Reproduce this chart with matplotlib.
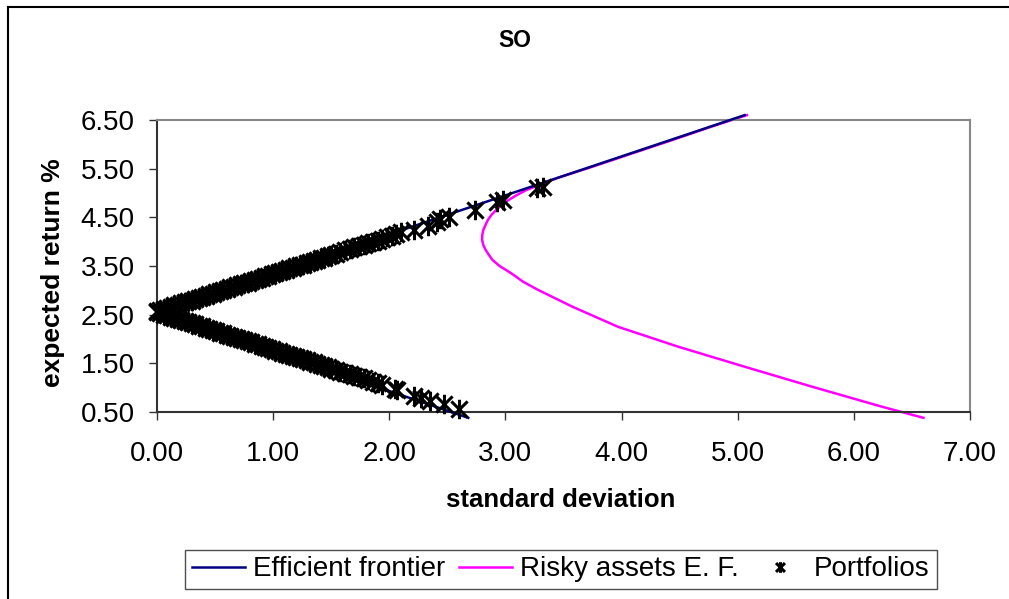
import matplotlib
matplotlib.use("Agg")
import matplotlib.pyplot as plt
from matplotlib.path import Path
from matplotlib.lines import Line2D

plt.rcParams['font.family'] = ['Liberation Sans', 'DejaVu Sans']

# efficient frontier (with riskless asset)
ef_sd = [5.06, 0.00, 2.68]
ef_ret = [6.60, 2.55, 0.38]

# risky assets efficient frontier
risky_sd = [6.60, 6.24, 5.64, 5.06, 4.49, 3.97, 3.58, 3.28, 3.15, 3.05, 2.95, 2.89,
            2.86, 2.83, 2.81, 2.80, 2.80, 2.81, 2.83, 2.85, 2.88, 2.92, 2.97, 3.03,
            3.10, 3.18, 3.45, 3.75, 4.10, 4.44, 4.77, 5.08]
risky_ret = [0.38, 0.61, 1.02, 1.43, 1.84, 2.25, 2.66, 3.01, 3.18, 3.35, 3.50, 3.62,
             3.72, 3.83, 3.93, 4.03, 4.13, 4.24, 4.35, 4.45, 4.55, 4.65, 4.76, 4.86,
             4.96, 5.06, 5.31, 5.54, 5.82, 6.09, 6.36, 6.60]

# portfolios, upper branch
up_sd = [0.00, 0.03, 0.06, 0.09, 0.12, 0.15, 0.18, 0.21, 0.24, 0.27, 0.30, 0.33,
         0.36, 0.39, 0.42, 0.45, 0.48, 0.51, 0.54, 0.57, 0.60, 0.63, 0.66, 0.69,
         0.72, 0.75, 0.78, 0.81, 0.84, 0.87, 0.90, 0.93, 0.96, 0.99, 1.02, 1.05,
         1.08, 1.11, 1.14, 1.17, 1.20, 1.23, 1.26, 1.29, 1.32, 1.35, 1.38, 1.41,
         1.44, 1.47, 1.50, 1.54, 1.58, 1.62, 1.66, 1.70, 1.74, 1.78, 1.82, 1.86,
         1.90, 1.94, 1.98, 2.02, 2.06, 2.10, 2.21, 2.33, 2.41, 2.44, 2.51, 2.74,
         2.93, 2.98, 3.27, 3.32]
up_ret = [2.57, 2.59, 2.62, 2.63, 2.66, 2.69, 2.70, 2.73, 2.75, 2.78, 2.79, 2.82,
          2.85, 2.86, 2.89, 2.92, 2.93, 2.96, 2.99, 3.00, 3.03, 3.06, 3.07, 3.10,
          3.12, 3.15, 3.16, 3.19, 3.22, 3.23, 3.26, 3.29, 3.30, 3.33, 3.36, 3.37,
          3.40, 3.42, 3.45, 3.46, 3.49, 3.52, 3.53, 3.56, 3.59, 3.60, 3.63, 3.66,
          3.67, 3.70, 3.73, 3.75, 3.79, 3.82, 3.84, 3.88, 3.91, 3.93, 3.97, 4.00,
          4.02, 4.06, 4.09, 4.12, 4.16, 4.19, 4.24, 4.32, 4.41, 4.46, 4.50, 4.65,
          4.82, 4.86, 5.10, 5.12]

# portfolios, lower branch
lo_sd = [0.00, 0.03, 0.06, 0.09, 0.12, 0.15, 0.18, 0.21, 0.24, 0.27, 0.30, 0.33,
         0.36, 0.39, 0.42, 0.45, 0.48, 0.51, 0.54, 0.57, 0.60, 0.63, 0.66, 0.69,
         0.72, 0.75, 0.78, 0.81, 0.84, 0.87, 0.90, 0.93, 0.96, 0.99, 1.02, 1.05,
         1.08, 1.11, 1.14, 1.17, 1.20, 1.23, 1.26, 1.29, 1.32, 1.35, 1.38, 1.41,
         1.44, 1.47, 1.50, 1.54, 1.58, 1.62, 1.66, 1.70, 1.74, 1.78, 1.82, 1.86,
         1.90, 1.94, 2.05, 2.07, 2.21, 2.27, 2.35, 2.47, 2.60]
lo_ret = [2.55, 2.53, 2.50, 2.49, 2.46, 2.43, 2.42, 2.39, 2.37, 2.34, 2.33, 2.30,
          2.27, 2.26, 2.23, 2.20, 2.19, 2.16, 2.13, 2.12, 2.09, 2.06, 2.05, 2.02,
          2.00, 1.97, 1.96, 1.93, 1.90, 1.89, 1.86, 1.83, 1.82, 1.79, 1.76, 1.75,
          1.72, 1.70, 1.67, 1.66, 1.63, 1.60, 1.59, 1.56, 1.53, 1.52, 1.49, 1.46,
          1.45, 1.42, 1.39, 1.37, 1.33, 1.30, 1.28, 1.24, 1.21, 1.19, 1.15, 1.12,
          1.10, 1.06, 0.97, 0.95, 0.83, 0.79, 0.73, 0.66, 0.56]

xticks = [0, 1, 2, 3, 4, 5, 6, 7]
yticks = [0.5, 1.5, 2.5, 3.5, 4.5, 5.5, 6.5]

# excel style asterisk: X plus vertical bar
star = Path([(-1, -1), (1, 1), (-1, 1), (1, -1), (0, -1.2), (0, 1.2)],
            [Path.MOVETO, Path.LINETO, Path.MOVETO, Path.LINETO, Path.MOVETO, Path.LINETO])

fig = plt.figure(figsize=(10.09, 5.99), dpi=100)
ax = fig.add_axes([0.1556, 0.3122, 0.8057, 0.4875])

ax.plot(ef_sd, ef_ret, color='#000080', lw=1.8, clip_on=False, label='Efficient frontier', zorder=3)
ax.plot(risky_sd, risky_ret, color='#FF00FF', lw=1.8, clip_on=False, label='Risky assets E. F.', zorder=2)
ax.plot(up_sd + lo_sd, up_ret + lo_ret, ls='none', marker=star, ms=14, mew=2.2,
        mec='black', mfc='none', clip_on=False, label='Portfolios', zorder=4)

ax.set_xlim(0, 7)
ax.set_ylim(0.5, 6.5)
ax.set_xticks(xticks)
ax.set_yticks(yticks)
ax.set_xticklabels([f'{v:.2f}' for v in xticks])
ax.set_yticklabels([f'{v:.2f}' for v in yticks])
ax.tick_params(direction='out', length=6, width=1, labelsize=20, color='#333333')
ax.tick_params(axis='x', pad=15)
ax.tick_params(axis='y', pad=10)

for s in ['top', 'right']:
    ax.spines[s].set_color('#888888')
    ax.spines[s].set_linewidth(1.5)
for s in ['left', 'bottom']:
    ax.spines[s].set_color('#333333')
    ax.spines[s].set_linewidth(1.5)

ax.set_xlabel('standard deviation', fontsize=18.5, fontweight='bold', va='center')
ax.set_ylabel('expected return %', fontsize=19, fontweight='bold', va='center')
ax.xaxis.set_label_coords(0.497, -0.303)
ax.yaxis.set_label_coords(-0.128, 0.476)
fig.text(0.510, 0.933, 'SO', ha='center', va='center', fontsize=16.5, fontweight='bold')

leg = fig.legend(loc='center', bbox_to_anchor=(0.556, 0.0493), ncol=3, fontsize=20,
                 frameon=True, fancybox=False, edgecolor='#222222', handlelength=1.9,
                 handletextpad=0.3, columnspacing=0.5, borderpad=0.25, markerscale=0.55)
leg.get_frame().set_linewidth(1.0)

# chart area frame (left and top edges visible)
fig.add_artist(Line2D([0.008, 0.008], [0, 0.988], color='black', lw=1.5, transform=fig.transFigure))
fig.add_artist(Line2D([0.008, 1.0], [0.988, 0.988], color='black', lw=1.5, transform=fig.transFigure))

plt.savefig('out.png', dpi=100)
